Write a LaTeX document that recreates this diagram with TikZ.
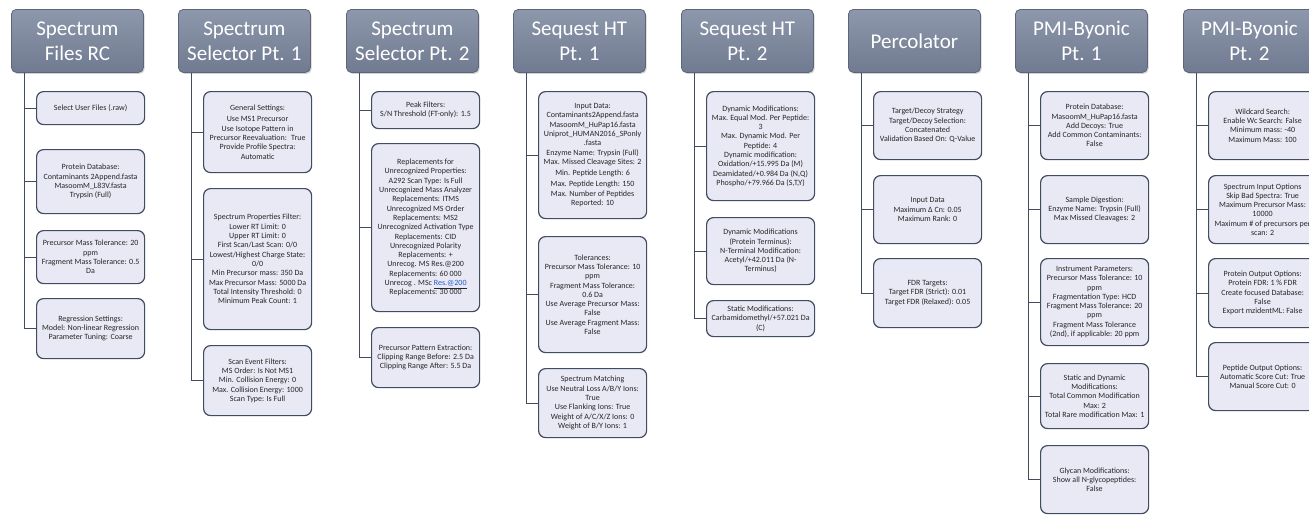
\documentclass[tikz,border=0pt]{standalone}
\usepackage{fontspec}
\setmainfont{Carlito}
\usetikzlibrary{shadows}
\definecolor{hdrtop}{RGB}{142,152,172}
\definecolor{hdrbot}{RGB}{112,122,144}
\definecolor{hdrline}{RGB}{92,102,122}
\definecolor{itemfill}{RGB}{233,233,245}
\definecolor{itemline}{RGB}{66,76,96}
\definecolor{linkblue}{RGB}{30,90,200}
\newcommand{\lnk}[1]{\underline{\textcolor{linkblue}{#1}}}

\begin{document}
\begin{tikzpicture}[x=1pt,y=-1pt,
  hdr/.style={anchor=north west, minimum width=132pt, minimum height=63pt,
    rounded corners=5pt, top color=hdrtop, bottom color=hdrbot, draw=hdrline,
    line width=0.8pt, drop shadow={shadow xshift=1.2pt, shadow yshift=-1.5pt, opacity=0.35},
    text=white, align=center, font=\fontsize{21}{25}\selectfont},
  item/.style={anchor=north west, minimum width=108pt, rounded corners=7pt,
    fill=itemfill, draw=itemline, line width=1.2pt, inner sep=2pt,
    align=center, text=black!85, font=\fontsize{8}{9.3}\selectfont},
  link/.style={draw=itemline, line width=1pt}]
\useasboundingbox[fill=white] (0,0) rectangle (1309,522);

% headers
\foreach \i/\x/\t in {1/11/Spectrum\\Files RC, 2/178/Spectrum\\Selector Pt. 1,
    3/346/Spectrum\\Selector Pt. 2, 4/513/Sequest HT\\Pt. 1, 5/681/Sequest HT\\Pt. 2,
    6/848/Percolator, 7/1015/PMI-Byonic\\Pt. 1, 8/1183/PMI-Byonic\\Pt. 2}
  \node[hdr] (h\i) at (\x,9) {\t};

% Spectrum Files RC
\node[item, minimum height=33pt] (c11) at (36,91) {Select User Files (.raw)};
\node[item, minimum height=64pt] (c12) at (36,149) {Protein Database:\\Contaminants 2Append.fasta\\MasoomM\_L83V.fasta\\Trypsin (Full)};
\node[item, minimum height=53pt] (c13) at (36,230) {Precursor Mass Tolerance: 20\\ppm\\Fragment Mass Tolerance: 0.5\\Da};
\node[item, minimum height=60pt] (c14) at (36,298) {Regression Settings:\\Model: Non-linear Regression\\Parameter Tuning: Coarse};

% Spectrum Selector Pt. 1
\node[item, minimum height=81pt] (c21) at (203,91) {General Settings:\\[2pt]Use MS1 Precursor\\Use Isotope Pattern in\\Precursor Reevaluation: \ True\\Provide Profile Spectra:\\Automatic};
\node[item, minimum height=141pt] (c22) at (203,188) {Spectrum Properties Filter:\\Lower RT Limit: 0\\Upper RT Limit: 0\\First Scan/Last Scan: 0/0\\Lowest/Highest Charge State:\\0/0\\Min Precursor mass: 350 Da\\Max Precursor Mass: 5000 Da\\Total Intensity Threshold: 0\\Minimum Peak Count: 1};
\node[item, minimum height=70pt] (c23) at (203,345) {Scan Event Filters:\\MS Order: Is Not MS1\\Min. Collision Energy: 0\\Max. Collision Energy: 1000\\Scan Type: Is Full};

% Spectrum Selector Pt. 2
\node[item, minimum height=37pt] (c31) at (371,91) {Peak Filters:\\S/N Threshold (FT-only): 1.5};
\node[item, minimum height=168pt] (c32) at (371,143) {Replacements for\\Unrecognized Properties:\\A292 Scan Type: Is Full\\Unrecognized Mass Analyzer\\Replacements: ITMS\\Unrecognized MS Order\\Replacements: MS2\\Unrecognized Activation Type\\Replacements: CID\\Unrecognized Polarity\\Replacements: +\\Unrecog. MS Res.@200\\Replacements: 60 000\\Unrecog . MSc \lnk{Res.@200}\\Replacements: 30 000};
\node[item, minimum height=60pt] (c33) at (371,327) {Precursor Pattern Extraction:\\Clipping Range Before: 2.5 Da\\Clipping Range After: 5.5 Da};

% Sequest HT Pt. 1
\node[item, minimum height=127pt] (c41) at (538,91) {Input Data:\\Contaminants2Append.fasta\\MasoomM\_HuPap16.fasta\\Uniprot\_HUMAN2016\_SPonly\\.fasta\\Enzyme Name: Trypsin (Full)\\Max. Missed Cleavage Sites: 2\\[2pt]Min. Peptide Length: 6\\[2pt]Max. Peptide Length: 150\\Max. Number of Peptides\\Reported: 10};
\node[item, minimum height=116pt] (c42) at (538,236) {Tolerances:\\Precursor Mass Tolerance: 10\\ppm\\Fragment Mass Tolerance:\\0.6 Da\\Use Average Precursor Mass:\\False\\Use Average Fragment Mass:\\False};
\node[item, minimum height=69pt] (c43) at (538,368) {Spectrum Matching\\Use Neutral Loss A/B/Y Ions:\\True\\Use Flanking Ions: True\\Weight of A/C/X/Z Ions: 0\\Weight of B/Y Ions: 1};

% Sequest HT Pt. 2
\node[item, minimum height=109pt] (c51) at (706,91) {Dynamic Modifications:\\Max. Equal Mod. Per Peptide:\\3\\Max. Dynamic Mod. Per\\Peptide: 4\\Dynamic modification:\\Oxidation/+15.995 Da (M)\\Deamidated/+0.984 Da (N,Q)\\Phospho/+79.966 Da (S,T,Y)};
\node[item, minimum height=67pt] (c52) at (706,217) {Dynamic Modifications\\(Protein Terminus):\\N-Terminal Modification:\\Acetyl/+42.011 Da (N-\\Terminus)};
\node[item, minimum height=36pt] (c53) at (706,300) {Static Modifications:\\Carbamidomethyl/+57.021 Da\\(C)};

% Percolator
\node[item, minimum height=68pt] (c61) at (873,91) {Target/Decoy Strategy\\Target/Decoy Selection:\\Concatenated\\Validation Based On: Q-Value};
\node[item, minimum height=68pt] (c62) at (873,175) {Input Data\\Maximum Δ Cn: 0.05\\Maximum Rank: 0};
\node[item, minimum height=69pt] (c63) at (873,258) {FDR Targets:\\Target FDR (Strict): 0.01\\Target FDR (Relaxed): 0.05};

% PMI-Byonic Pt. 1
\node[item, minimum height=68pt] (c71) at (1040,91) {Protein Database:\\MasoomM\_HuPap16.fasta\\Add Decoys: True\\Add Common Contaminants:\\False};
\node[item, minimum height=68pt] (c72) at (1040,175) {Sample Digestion:\\Enzyme Name: Trypsin (Full)\\Max Missed Cleavages: 2};
\node[item, minimum height=87pt] (c73) at (1040,258) {Instrument Parameters:\\Precursor Mass Tolerance: 10\\ppm\\Fragmentation Type: HCD\\Fragment Mass Tolerance: 20\\ppm\\Fragment Mass Tolerance\\(2nd), if applicable: 20 ppm};
\node[item, minimum height=65pt] (c74) at (1040,363) {Static and Dynamic\\Modifications:\\Total Common Modification\\Max: 2\\Total Rare modification Max: 1};
\node[item, minimum height=68pt] (c75) at (1040,445) {Glycan Modifications:\\Show all N-glycopeptides:\\False};

% PMI-Byonic Pt. 2
\node[item, minimum height=68pt] (c81) at (1208,91) {Wildcard Search:\\Enable Wc Search: False\\Minimum mass: -40\\Maximum Mass: 100};
\node[item, minimum height=68pt] (c82) at (1208,175) {Spectrum Input Options\\Skip Bad Spectra: True\\Maximum Precursor Mass:\\10000\\Maximum \# of precursors per\\scan: 2};
\node[item, minimum height=69pt] (c83) at (1208,258) {Protein Output Options:\\Protein FDR: 1 \% FDR\\Create focused Database:\\False\\Export mzidentML: False};
\node[item, minimum height=68pt] (c84) at (1208,342) {Peptide Output Options:\\Automatic Score Cut: True\\Manual Score Cut: 0};

% connectors
\foreach \c/\n in {1/4, 2/3, 3/3, 4/3, 5/3, 6/3, 7/5, 8/4}
  \foreach \k in {1,...,\n}
    \draw[link] ([xshift=13pt]h\c.south west) |- (c\c\k.west);
\end{tikzpicture}
\end{document}
